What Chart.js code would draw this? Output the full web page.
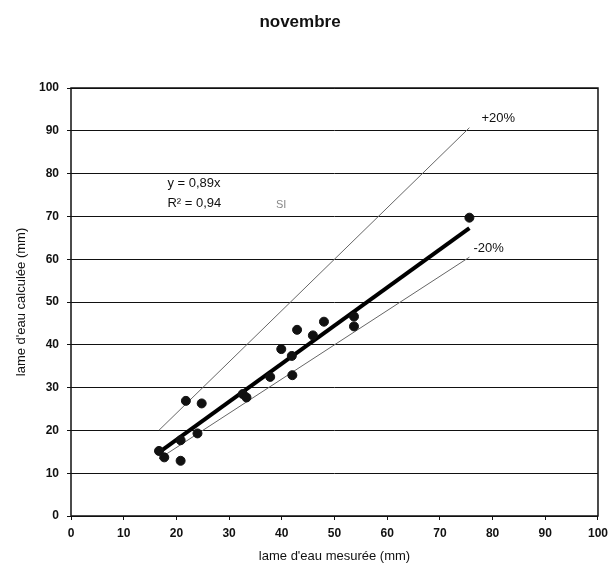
<!DOCTYPE html>
<html lang="fr">
<head>
    <meta charset="UTF-8">
    <title>novembre</title>
    <script src="https://cdn.jsdelivr.net/npm/chart.js"></script>
    <style>
        body {
            margin: 0;
            padding: 0;
            background-color: #ffffff;
        }

        .chart-box {
            width: 614px;
            height: 572px;
        }
    </style>
</head>
<body>
    <div class="chart-box">
        <canvas id="scatterChart" width="614" height="572"></canvas>
    </div>

    <script>
        // values
        const measured = [16.7, 17.7, 20.8, 20.8, 24.0, 21.8, 24.8, 32.6, 33.3, 37.8, 42.0, 41.9, 39.9, 42.9, 45.9, 48.0, 53.7, 53.7, 75.6];
        const calculated = [15.2, 13.7, 12.9, 17.7, 19.3, 26.9, 26.3, 28.5, 27.7, 32.5, 32.9, 37.4, 39.0, 43.5, 42.2, 45.4, 46.6, 44.3, 69.7];
        const fitSlope = 0.89;
        const fitR2 = '0,94';
        const bandSlopes = [1.2, 0.8];
        const bandLabels = ['+20%', '-20%'];
        const axisTicks = [0, 10, 20, 30, 40, 50, 60, 70, 80, 90, 100];

        const xMin = Math.min(...measured);
        const xMax = Math.max(...measured);
        const lineOf = slope => [xMin, xMax].map(x => ({ x: x, y: slope * x }));
        const points = measured.map((x, i) => ({ x: x, y: calculated[i] }));

        const FONT = "'Liberation Sans', Arial, sans-serif";
        Chart.defaults.font.family = FONT;
        Chart.defaults.color = '#111';

        // box round the plot area + text notes
        const notes = {
            id: 'notes',
            afterDatasetsDraw(chart) {
                const { ctx, chartArea: a, scales: { x, y } } = chart;
                ctx.save();
                ctx.strokeStyle = '#111';
                ctx.lineWidth = 1.5;
                ctx.strokeRect(a.left, a.top, a.right - a.left, a.bottom - a.top);

                ctx.fillStyle = '#111';
                ctx.font = '13px ' + FONT;
                ctx.textBaseline = 'middle';
                ctx.textAlign = 'left';
                ctx.fillText('y = ' + fitSlope.toString().replace('.', ',') + 'x', x.getPixelForValue(18.3), y.getPixelForValue(77.8));
                ctx.fillText('R\u00B2 = ' + fitR2, x.getPixelForValue(18.3), y.getPixelForValue(73.0));

                // +20% / -20% next to the line ends
                const px = x.getPixelForValue(xMax);
                ctx.fillText(bandLabels[0], px + 12, y.getPixelForValue(bandSlopes[0] * xMax) - 9);
                ctx.fillText(bandLabels[1], px + 4, y.getPixelForValue(bandSlopes[1] * xMax) - 9);

                ctx.fillStyle = '#888';
                ctx.font = '11px ' + FONT;
                ctx.fillText('SI', x.getPixelForValue(38.9), y.getPixelForValue(72.7));
                ctx.restore();
            }
        };

        const ctx = document.getElementById('scatterChart').getContext('2d');
        const chart = new Chart(ctx, {
            type: 'scatter',
            data: {
                datasets: [{
                    label: 'points',
                    data: points,
                    backgroundColor: '#111',
                    borderColor: '#111',
                    pointRadius: 4.5,
                    pointHoverRadius: 4.5
                }, {
                    label: 'y = 0,89x',
                    data: lineOf(fitSlope),
                    showLine: true,
                    borderColor: '#000',
                    borderWidth: 4,
                    pointRadius: 0
                }, {
                    label: '+20%',
                    data: lineOf(bandSlopes[0]),
                    showLine: true,
                    borderColor: '#666',
                    borderWidth: 1,
                    pointRadius: 0
                }, {
                    label: '-20%',
                    data: lineOf(bandSlopes[1]),
                    showLine: true,
                    borderColor: '#666',
                    borderWidth: 1,
                    pointRadius: 0
                }]
            },
            options: {
                responsive: false,
                animation: false,
                layout: {
                    padding: { left: 0, right: 14, top: 0, bottom: 0 }
                },
                plugins: {
                    legend: { display: false },
                    tooltip: { enabled: false },
                    title: {
                        display: true,
                        text: 'novembre',
                        color: '#111',
                        font: { size: 17, weight: 'bold', lineHeight: 1.2 },
                        padding: { top: 12, bottom: 55.6 }
                    }
                },
                scales: {
                    x: {
                        type: 'linear',
                        min: 0,
                        max: 100,
                        afterBuildTicks: axis => { axis.ticks = axisTicks.map(v => ({ value: v })); },
                        afterFit: axis => { axis.height = 56; },
                        grid: {
                            drawOnChartArea: false,
                            drawTicks: true,
                            tickLength: 4,
                            color: '#111'
                        },
                        border: { display: false },
                        ticks: {
                            padding: 6,
                            maxRotation: 0,
                            font: { size: 12, weight: 'bold' }
                        },
                        title: {
                            display: true,
                            text: 'lame d\'eau mesurée (mm)',
                            font: { size: 13 },
                            padding: { top: 0, bottom: 8 }
                        }
                    },
                    y: {
                        type: 'linear',
                        min: 0,
                        max: 100,
                        afterBuildTicks: axis => { axis.ticks = axisTicks.map(v => ({ value: v })); },
                        afterFit: axis => { axis.width = 71; },
                        grid: {
                            color: '#111',
                            lineWidth: 1,
                            drawTicks: true,
                            tickLength: 4
                        },
                        border: { display: false },
                        ticks: {
                            padding: 8,
                            font: { size: 12, weight: 'bold' }
                        },
                        title: {
                            display: true,
                            text: 'lame d\'eau calculée (mm)',
                            font: { size: 13 },
                            padding: { top: 14, bottom: 0 }
                        }
                    }
                }
            },
            plugins: [notes]
        });
    </script>
</body>
</html>
